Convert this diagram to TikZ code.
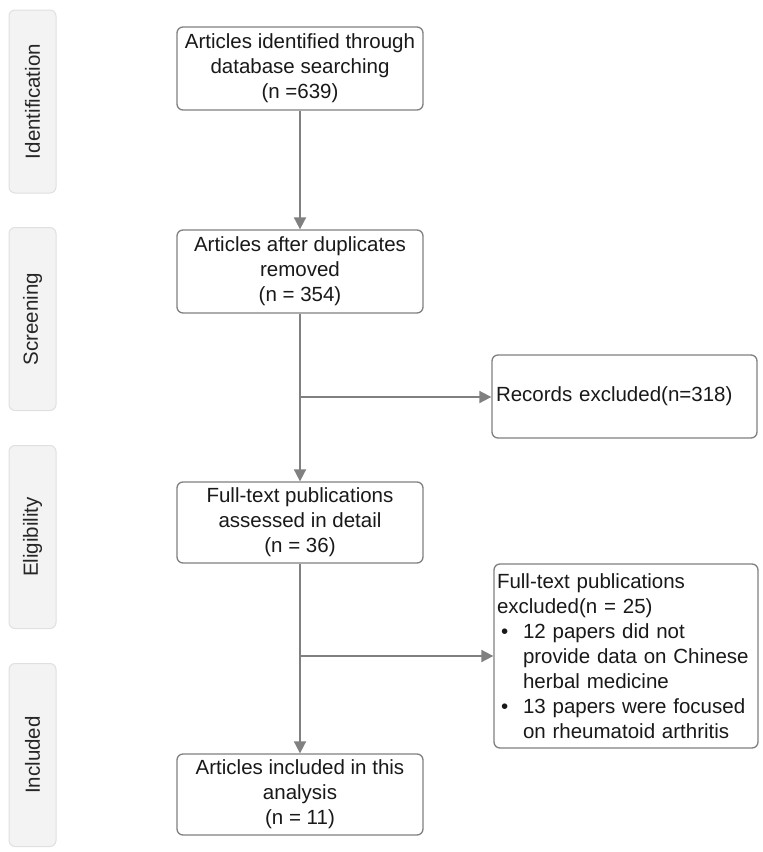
\documentclass[tikz,border=0pt]{standalone}
\usepackage{fontspec}
\setmainfont{Liberation Sans}
\usetikzlibrary{arrows.meta}
\definecolor{edge}{HTML}{808080}
\definecolor{sidefill}{HTML}{F3F3F3}
\definecolor{sideedge}{HTML}{E0E0E0}
\tikzset{
  box/.style={draw=edge, line width=1.3pt, rounded corners=6pt, fill=white,
    font=\fontsize{20.5}{25}\selectfont, align=center, inner sep=0pt, text=black!90},
  side/.style={draw=sideedge, line width=1pt, rounded corners=6pt, fill=sidefill,
    minimum width=47pt, minimum height=183pt, inner sep=0pt,
    font=\fontsize{20.5}{25}\selectfont, text=black!85},
  flow/.style={draw=edge, line width=1.8pt, -{Triangle[length=12pt,width=12pt]}},
  flowline/.style={draw=edge, line width=1.8pt}
}
\begin{document}
\begin{tikzpicture}[x=1pt,y=-1pt]
\useasboundingbox (0,0) rectangle (763,852);
% side labels
\node[side] (sid) at (32.5,101.5) {\rotatebox{90}{Identification}};
\node[side] (sscr) at (32.5,319) {\rotatebox{90}{Screening}};
\node[side] (seli) at (32.5,537) {\rotatebox{90}{Eligibility}};
\node[side] (sinc) at (32.5,755) {\rotatebox{90}{Included}};
% main boxes
\node[box, minimum width=246pt, minimum height=83pt] (b1) at (300,68.5)
  {Articles identified through\\database searching\\(n =639)};
\node[box, minimum width=246pt, minimum height=83pt] (b2) at (300,271.5)
  {Articles after duplicates\\removed\\(n = 354)};
\node[box, minimum width=246pt, minimum height=81pt] (b3) at (300,522.5)
  {Full-text publications\\assessed in detail\\(n = 36)};
\node[box, minimum width=246pt, minimum height=81pt] (b4) at (300,794.5)
  {Articles included in this\\analysis\\(n = 11)};
\node[box, minimum width=265pt, minimum height=83pt, text width=257pt, align=left] (e1) at (624.5,396.5)
  {Records excluded(n=318)};
\node[box, minimum width=264pt, minimum height=184pt, text width=258pt, align=left] (e2) at (626,656)
  {Full-text publications\\
   excluded(n = 25)\\
   \makebox[26pt][l]{\hspace{4pt}\textbullet}12 papers did not\\
   \hspace*{26pt}provide data on Chinese\\
   \hspace*{26pt}herbal medicine\\
   \makebox[26pt][l]{\hspace{4pt}\textbullet}13 papers were focused\\
   \hspace*{26pt}on rheumatoid arthritis};
% connectors
\coordinate (j1) at (300,397);
\coordinate (j2) at (300,656);
\draw[flow] (b1) -- (b2);
\draw[flow] (b2) -- (b3);
\draw[flow] (j1) -- (e1.west |- j1);
\draw[flow] (b3) -- (b4);
\draw[flow] (j2) -- (e2.west |- j2);
\end{tikzpicture}
\end{document}
